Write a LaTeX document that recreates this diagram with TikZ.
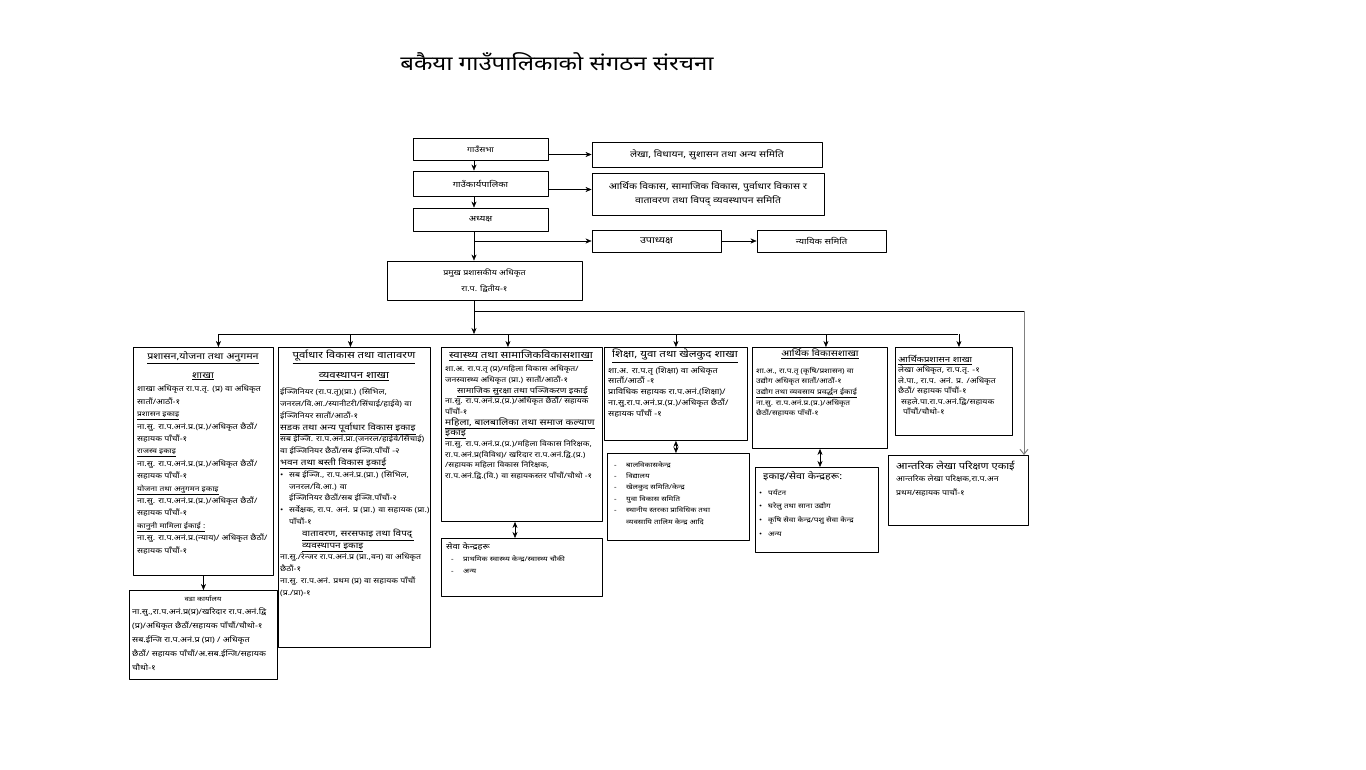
\documentclass[tikz,border=0pt]{standalone}
\usepackage{fontspec}
\setmainfont[Script=Devanagari, FakeStretch=1.2]{Noto Sans}
\usetikzlibrary{arrows.meta}
\tikzset{
  box/.style={draw, line width=0.9pt, inner sep=0pt, anchor=north west},
  topbox/.style={draw, line width=0.9pt, inner sep=1pt, align=center, font=\fontsize{8}{14}\selectfont},
  head/.style args={#1/#2}{anchor=north, align=center, inner sep=0pt, font=\fontsize{#1}{#2}\selectfont\bfseries},
  body/.style args={#1/#2}{anchor=north west, align=left, inner sep=0pt, font=\fontsize{#1}{#2}\selectfont}
}
\newcommand{\ulb}[1]{\underline{\textbf{#1}}}
\newcommand{\sub}[2]{{\fontsize{#1}{10}\selectfont\ulb{#2}}}
\newcommand{\dashitem}[1]{\makebox[12pt][l]{-}#1}
\newcommand{\dotitem}[1]{\makebox[9pt][l]{\textbullet}#1}
\begin{document}
\begin{tikzpicture}[x=1pt, y=-1pt, >={Stealth[length=6pt, width=5pt]}, line join=round]
\useasboundingbox (0,0) rectangle (1366,770);

% शीर्षक
\node[font=\fontsize{20}{24}\selectfont] (title) at (557,62) {बकैया गाउँपालिकाको संगठन संरचना};

% माथिल्लो तह
\node[topbox, minimum width=135, minimum height=22, font=\fontsize{7.4}{14}\selectfont] (sabha) at (480.5,149) {गाउँसभा};
\node[topbox, minimum width=135, minimum height=25] (karya) at (480.5,183.5) {गाउँकार्यपालिका};
\node[topbox, minimum width=135, minimum height=23] (adhyaksha) at (480.5,219.5) {अध्यक्ष};
\node[topbox, minimum width=195, minimum height=39, font=\fontsize{7.4}{16}\selectfont] (ppa) at (484.5,280.5) {प्रमुख प्रशासकीय अधिकृत\\ रा.प. द्वितीय-१};
\node[topbox, minimum width=230, minimum height=25, font=\fontsize{8.7}{14}\selectfont] (samitiA) at (707,154.5) {लेखा, विधायन, सुशासन तथा अन्य समिति};
\node[topbox, minimum width=232, minimum height=42, font=\fontsize{8.7}{14.5}\selectfont] (samitiB) at (708,194) {आर्थिक विकास, सामाजिक विकास, पुर्वाधार विकास र\\ वातावरण तथा विपद् व्यवस्थापन समिति};
\node[topbox, minimum width=129, minimum height=22, font=\fontsize{9}{14}\selectfont] (upa) at (656.5,241) {उपाध्यक्ष};
\node[topbox, minimum width=129, minimum height=22] (nyayik) at (821.5,241) {न्यायिक समिति};

\coordinate (stem) at (474,0);
\draw[->] (stem |- sabha.south) -- (stem |- karya.north);
\draw[->] (stem |- karya.south) -- (stem |- adhyaksha.north);
\draw[->] (stem |- adhyaksha.south) -- (stem |- ppa.north);
\draw[->] (sabha.east |- samitiA.west) -- (samitiA.west);
\draw[->] ([yshift=-6pt]karya.east) -- ([yshift=-6pt]karya.east -| samitiB.west);
\draw[->] (stem |- upa.west) -- (upa.west);
\draw[->] (upa.east) -- (nyayik.west);

% शाखाहरू
\node[box, minimum width=140, minimum height=228] (prashasan) at (133,347) {};
\node[head=8.9/19] at (203,351) {\underline{प्रशासन,योजना तथा अनुगमन}\\\underline{शाखा}};
\node[body=7.4/12.4] at (137,385) {शाखा अधिकृत रा.प.तृ. (प्र) वा अधिकृत\\
सातौं/आठौं-१\\
\sub{7}{प्रशासन इकाइ}\\
ना.सु. रा.प.अनं.प्र.(प्र.)/अधिकृत छैठौं/\\
सहायक पाँचौं-१\\
\sub{7}{राजस्व इकाइ}\\
ना.सु. रा.प.अनं.प्र.(प्र.)/अधिकृत छैठौं/\\
सहायक पाँचौं-१\\
\sub{7}{योजना तथा अनुगमन इकाइ}\\
ना.सु. रा.प.अनं.प्र.(प्र.)/अधिकृत छैठौं/\\
सहायक पाँचौं-१\\
\sub{7}{कानुनी मामिला ईकाई :}\\
ना.सु. रा.प.अनं.प्र.(न्याय)/ अधिकृत छैठौं/\\
सहायक पाँचौं-१};

\node[box, minimum width=152, minimum height=300] (purbadhar) at (278,347) {};
\node[head=9.5/20] at (354,350) {\underline{पूर्वाधार विकास तथा वातावरण}\\\underline{व्यवस्थापन शाखा}};
\node[body=7.3/11.8] at (280,388) {ईञ्जिनियर (रा.प.तृ)(प्रा.) (सिभिल,\\
जनरल/वि.आ./स्यानीटरी/सिंचाई/हाईवे) वा\\
ईञ्जिनियर सातौं/आठौं-१\\
\sub{8.3}{सडक तथा अन्य पूर्वाधार विकास इकाइ}\\
सब ईञ्जि. रा.प.अनं.प्रा.(जनरल/हाईवे/सिंचाई)\\
वा ईञ्जिनियर छैठौं/सब ईञ्जि.पाँचौं -२\\
\sub{8.3}{भवन तथा बस्ती विकास इकाई}\\
\dotitem{सब ईञ्जि., रा.प.अनं.प्र.(प्रा.) (सिभिल,}\\
\hspace*{9pt}जनरल/वि.आ.) वा\\
\hspace*{9pt}ईञ्जिनियर छैठौं/सब ईञ्जि.पाँचौं-२\\
\dotitem{सर्वेक्षक, रा.प. अनं. प्र (प्रा.) वा सहायक (प्रा.)}\\
\hspace*{9pt}पाँचौं-१\\
\hspace*{22pt}\sub{8.3}{वातावरण, सरसफाइ तथा विपद्}\\
\hspace*{22pt}\sub{8.3}{व्यवस्थापन इकाइ}\\
ना.सु./रेन्जर रा.प.अनं.प्र (प्रा.,वन) वा अधिकृत\\
छैठौं-१\\
ना.सु. रा.प.अनं. प्रथम (प्र) वा सहायक पाँचौं\\
(प्र./प्रा)-१};

\node[box, minimum width=161, minimum height=174] (swasthya) at (441,347) {};
\node[head=9.5/10] at (521,350) {\underline{स्वास्थ्य तथा सामाजिकविकासशाखा}};
\node[body=7.2/10.7] at (445,365) {शा.अ. रा.प.तृ (प्र)/महिला विकास अधिकृत/\\
जनस्वास्थ्य अधिकृत (प्रा.) सातौं/आठौं-१\\
\hspace*{12pt}\sub{7.7}{सामाजिक सुरक्षा तथा पञ्जिकरण इकाई}\\
ना.सु. रा.प.अनं.प्र.(प्र.)/अधिकृत छैठौं/ सहायक\\
पाँचौं-१\\
\sub{8.6}{महिला, बालबालिका तथा समाज कल्याण}\\
\sub{8.6}{इकाइ}\\
ना.सु. रा.प.अनं.प्र.(प्र.)/महिला विकास निरिक्षक,\\
रा.प.अनं.प्र(विविध)/ खरिदार रा.प.अनं.द्वि.(प्र.)\\
/सहायक महिला विकास निरिक्षक,\\
रा.प.अनं.द्वि.(वि.) वा सहायकस्तर पाँचौं/चौथो -१};

\node[box, minimum width=143, minimum height=93] (shiksha) at (604,347) {};
\node[head=9.6/10] at (675,349) {\underline{शिक्षा, युवा तथा खेलकुद शाखा}};
\node[body=7.6/10.8] at (608,366) {शा.अ. रा.प.तृ (शिक्षा) वा अधिकृत\\
सातौं/आठौं -१\\
प्राविधिक सहायक रा.प.अनं.(शिक्षा)/\\
ना.सु.रा.प.अनं.प्र.(प्र.)/अधिकृत छैठौं/\\
सहायक पाँचौं -१};

\node[box, minimum width=135, minimum height=101] (arthik) at (752,347) {};
\node[head=8.6/10] at (820,349) {\underline{आर्थिक विकासशाखा}};
\node[body=6.9/10.6] at (756,367) {शा.अ., रा.प.तृ (कृषि/प्रशासन) वा\\
उद्योग अधिकृत सातौं/आठौं-१\\
\sub{7}{उद्योग तथा व्यवसाय प्रवर्द्धन ईकाई}\\
ना.सु. रा.प.अनं.प्र.(प्र.)/अधिकृत\\
छैठौं/सहायक पाँचौं-१};

\node[box, minimum width=117, minimum height=88] (arthikpra) at (895,347) {};
\node[body=7.3/10.5] at (898,355) {\sub{8}{आर्थिकप्रशासन शाखा}\\
लेखा अधिकृत, रा.प.तृ. -१\\
ले.पा., रा.प. अनं. प्र. /अधिकृत\\
छैठौं/ सहायक पाँचौं-१\\
\hspace*{3pt}सहले.पा.रा.प.अनं.द्वि/सहायक\\
\hspace*{5pt}पाँचौं/चौथो-१};

\node[box, minimum width=140, minimum height=70] (lekha) at (888,455) {};
\node[body=9.3/13.5] at (896,461) {आन्तरिक लेखा परिक्षण एकाई};
\node[body=7.3/13.5] at (896,475) {आन्तरिक लेखा परिक्षक,रा.प.अन\\
प्रथम/सहायक पाचौं-१};

% तल्लो तह
\node[box, minimum width=148, minimum height=89] (wada) at (129,590) {};
\node[head=6.5/10] at (203,595) {वडा कार्यालय};
\node[body=7.5/14] at (132,608) {ना.सु.,रा.प.अनं.प्र(प्र)/खरिदार रा.प.अनं.द्वि\\
(प्र)/अधिकृत छैठौं/सहायक पाँचौं/चौथो-१\\
सब.ईन्जि रा.प.अनं.प्र (प्रा) / अधिकृत\\
छैठौं/ सहायक पाँचौं/अ.सब.ईन्जि/सहायक\\
चौथो-१};

\node[box, minimum width=161, minimum height=58] (seva) at (441,538) {};
\node[body=7.8/10] at (446,542) {सेवा केन्द्रहरू};
\node[body=6.6/12] at (451,555) {\dashitem{प्राथमिक स्वास्थ्य केन्द्र/स्वास्थ्य चौकी}\\
\dashitem{अन्य}};

\node[box, minimum width=142, minimum height=87] (shikshaList) at (607,453) {};
\node[body=6.6/11.4] at (614,461) {\dashitem{बालविकासकेन्द्र}\\
\dashitem{विद्यालय}\\
\dashitem{खेलकुद समिति/केन्द्र}\\
\dashitem{युवा विकास समिति}\\
\dashitem{स्थानीय स्तरका प्राविधिक तथा}\\
\hspace*{12pt}व्यवसायि तालिम केन्द्र आदि};

\node[box, minimum width=123, minimum height=85] (ekai) at (755,467) {};
\node[body=9/10] at (763,471) {इकाइ/सेवा केन्द्रहरू:};
\node[body=6.8/13.7] at (759,489) {\dotitem{पर्यटन}\\
\dotitem{घरेलु तथा साना उद्योग}\\
\dotitem{कृषि सेवा केन्द्र/पशु सेवा केन्द्र}\\
\dotitem{अन्य}};

% जोड्ने रेखाहरू
\coordinate (busL) at (218,334);
\coordinate (busR) at (958,334);
\coordinate (tap) at (1024,311);
\draw[->] (stem |- ppa.south) -- (stem |- busL);
\draw (busL) -- (busR);
\foreach \n/\dx in {prashasan/15, purbadhar/-4, swasthya/-14, shiksha/0, arthik/6, arthikpra/5}
  \draw[->] ([xshift=\dx pt]\n.north) ++(0,-13) -- ++(0,13);
\draw (stem |- tap) -- (tap);
\draw[gray, -{Straight Barb[length=5pt, width=8pt]}, line width=1pt] (tap) -- (tap |- lekha.north);

\coordinate (dS) at (515,0);
\coordinate (dE) at (820,0);
\draw[->] (prashasan.south) -- (prashasan.south |- wada.north);
\draw[<->] (dS |- swasthya.south) -- (dS |- seva.north);
\draw[<->] (shiksha.south) -- (shiksha.south |- shikshaList.north);
\draw[<->] (dE |- arthik.south) -- (dE |- ekai.north);
\end{tikzpicture}
\end{document}
